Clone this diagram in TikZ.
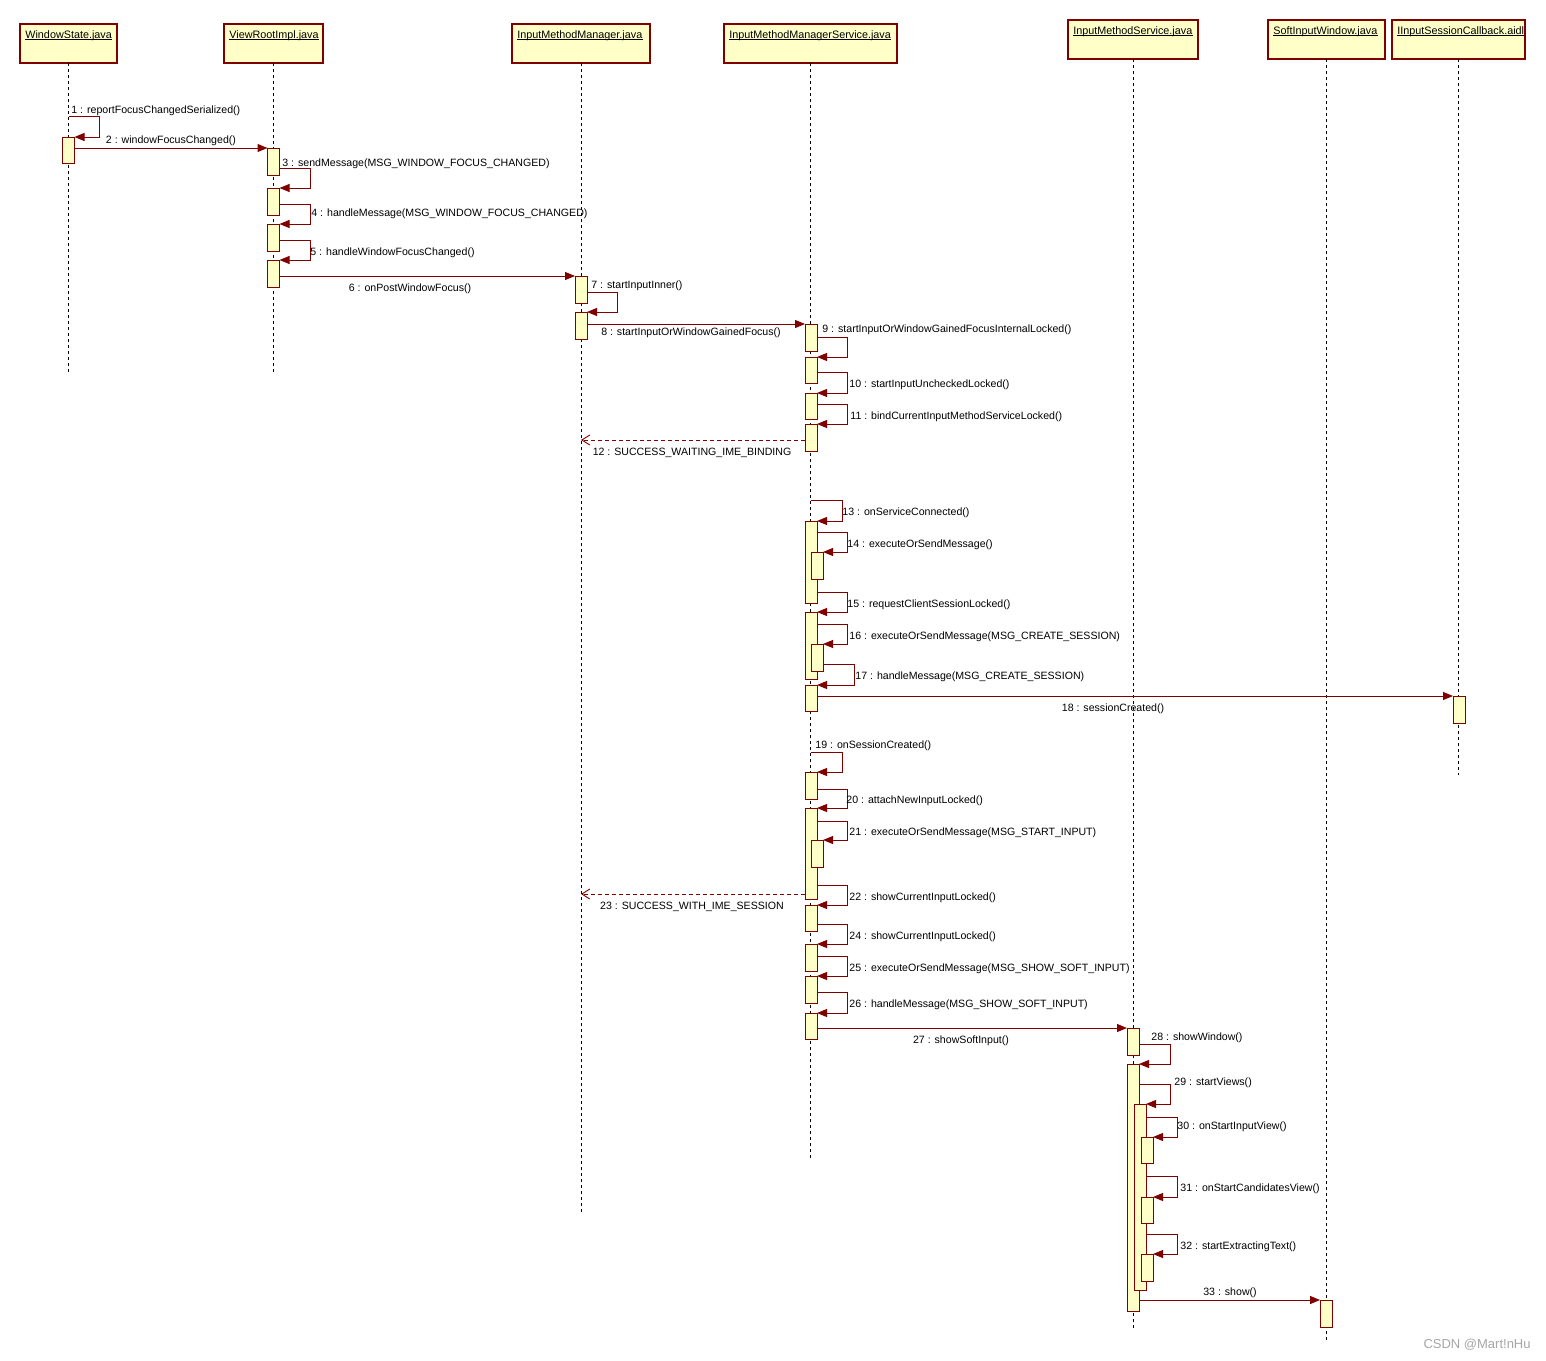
\documentclass[tikz,border=0pt]{standalone}
\usepackage{fontspec}
\setmainfont{Liberation Sans}
\usetikzlibrary{arrows.meta,calc}
\definecolor{dred}{HTML}{800000}
\definecolor{lyel}{HTML}{FFFFC8}
\newcommand\actbar[4]{\pgfmathsetmacro\barh{(#4-#3)*0.5}\node[act, anchor=north, minimum height=\barh pt] (#1) at (#2,#3) {};}
\newcommand\headbox[6]{\pgfmathsetmacro\hw{(#4-#2)*0.5}\pgfmathsetmacro\hh{(#5-#3)*0.5}\node[head, anchor=north west, minimum width=\hw pt, minimum height=\hh pt] (#1) at (#2,#3) {};\node[headtext] (#1t) at ($(#1.north west)+(5,6)$) {#6};\draw[line width=0.4pt] ([yshift=-0.8pt]#1t.base west) -- ([yshift=-0.8pt]#1t.base east);}
\newcommand\selfcall[3]{\draw[msg] (#1) -| (#3.north east -| #2,0) -- (#3.north east);}
\begin{document}
\begin{tikzpicture}[x=0.5pt,y=-0.5pt,
  head/.style={draw=dred, fill=lyel, line width=0.55pt, inner sep=0, outer sep=0},
  headtext/.style={font=\fontsize{5.4pt}{6pt}\selectfont, inner sep=0, anchor=north west},
  act/.style={draw=dred, fill=lyel, line width=0.5pt, inner sep=0, outer sep=0, minimum width=6pt},
  life/.style={black, line width=0.5pt, dash pattern=on 1.5pt off 1.5pt},
  msg/.style={dred, line width=0.5pt, -{Triangle[length=5pt,width=4pt]}},
  ret/.style={dred, line width=0.45pt, dash pattern=on 2pt off 1.5pt, -{Straight Barb[length=4pt,width=5pt]}},
  lbl/.style={font=\fontsize{5.3pt}{6pt}\selectfont, inner sep=0, yshift=-0.8pt},
  lblw/.style={lbl, anchor=west},
]
\fill[white] (0,0) rectangle (1546,1360);
\useasboundingbox (0,0) rectangle (1546,1360);

% heads
\headbox{ws}{20}{24}{117}{63}{WindowState.java}
\headbox{vr}{224}{24}{323}{63}{ViewRootImpl.java}
\headbox{imm}{512}{24}{650}{63}{InputMethodManager.java}
\headbox{imms}{724}{24}{897}{63}{InputMethodManagerService.java}
\headbox{ims}{1068}{20}{1198}{59}{InputMethodService.java}
\headbox{siw}{1268}{20}{1385}{59}{SoftInputWindow.java}
\headbox{iisc}{1392}{20}{1525}{59}{IInputSessionCallback.aidl}

% lifelines
\draw[life] (ws.south) -- (ws.south |- 0,372);
\draw[life] (vr.south) -- (vr.south |- 0,372);
\draw[life] (imm.south) -- (imm.south |- 0,1213);
\draw[life] (imms.south) -- (imms.south |- 0,1158);
\draw[life] (ims.south) -- (ims.south |- 0,1328);
\draw[life] (siw.south) -- (siw.south |- 0,1340);
\draw[life] (iisc.south) -- (iisc.south |- 0,775);

% activation bars
\actbar{wsA}{68.5}{137}{163}
\actbar{vrA}{273.5}{148}{175}
\actbar{vrB}{273.5}{188}{215}
\actbar{vrC}{273.5}{224}{251}
\actbar{vrD}{273.5}{260}{287}
\actbar{immA}{581}{276}{303}
\actbar{immB}{581}{312}{339}
\actbar{immsA}{811}{324}{351}
\actbar{immsB}{811}{357}{383}
\actbar{immsC}{811}{393}{419}
\actbar{immsD}{811}{424}{451}
\actbar{immsE}{811}{521}{603}
\actbar{immsEN}{817}{552}{579}
\actbar{immsF}{811}{612}{679}
\actbar{immsFN}{817}{644}{671}
\actbar{immsG}{811}{685}{711}
\actbar{iiscA}{1459}{696}{723}
\actbar{immsH}{811}{772}{799}
\actbar{immsI}{811}{808}{899}
\actbar{immsIN}{817}{840}{867}
\actbar{immsJ}{811}{905}{931}
\actbar{immsK}{811}{944}{971}
\actbar{immsL}{811}{976}{1003}
\actbar{immsM}{811}{1013}{1039}
\actbar{imsA}{1133}{1028}{1055}
\actbar{imsB}{1133}{1064}{1311}
\actbar{imsBN}{1140}{1104}{1290}
\actbar{imsC1}{1147}{1137}{1163}
\actbar{imsC2}{1147}{1197}{1223}
\actbar{imsC3}{1147}{1254}{1281}
\actbar{siwA}{1326}{1300}{1327}

% messages
\selfcall{ws.south |- 0,116}{99}{wsA}
\draw[msg] (wsA.east |- vrA.north west) -- (vrA.north west);
\selfcall{vrA.east |- 0,168}{310}{vrB}
\selfcall{vrB.east |- 0,204}{310}{vrC}
\selfcall{vrC.east |- 0,240}{310}{vrD}
\draw[msg] (vrD.east |- immA.north west) -- (immA.north west);
\selfcall{immA.east |- 0,292}{617}{immB}
\draw[msg] (immB.east |- immsA.north west) -- (immsA.north west);
\selfcall{immsA.east |- 0,337}{847}{immsB}
\selfcall{immsB.east |- 0,372}{847}{immsC}
\selfcall{immsC.east |- 0,404}{847}{immsD}
\draw[ret] (immsD.west |- 0,440) -- (imm.south |- 0,440);
\selfcall{imms.south |- 0,500}{842}{immsE}
\selfcall{immsE.east |- 0,532}{847}{immsEN}
\selfcall{immsE.east |- 0,592}{847}{immsF}
\selfcall{immsF.east |- 0,624}{847}{immsFN}
\selfcall{immsFN.east |- 0,664}{854}{immsG}
\draw[msg] (immsG.east |- iiscA.north west) -- (iiscA.north west);
\selfcall{imms.south |- 0,752}{842}{immsH}
\selfcall{immsH.east |- 0,789}{847}{immsI}
\selfcall{immsI.east |- 0,821}{847}{immsIN}
\selfcall{immsI.east |- 0,885}{847}{immsJ}
\draw[ret] (immsI.west |- 0,894) -- (imm.south |- 0,894);
\selfcall{immsJ.east |- 0,924}{847}{immsK}
\selfcall{immsK.east |- 0,956}{847}{immsL}
\selfcall{immsL.east |- 0,992}{847}{immsM}
\draw[msg] (immsM.east |- imsA.north west) -- (imsA.north west);
\selfcall{imsA.east |- 0,1044}{1170}{imsB}
\selfcall{imsB.east |- 0,1084}{1170}{imsBN}
\selfcall{imsBN.east |- 0,1117}{1177}{imsC1}
\selfcall{imsBN.east |- 0,1176}{1177}{imsC2}
\selfcall{imsBN.east |- 0,1234}{1177}{imsC3}
\draw[msg] (imsB.east |- siwA.north west) -- (siwA.north west);

% labels
\node[lblw] (l1) at (71,109) {1 : reportFocusChangedSerialized()};
\node[lbl] (l2) at (171,139) {2 : windowFocusChanged()};
\node[lblw] (l3) at (282,162) {3 : sendMessage(MSG\_WINDOW\_FOCUS\_CHANGED)};
\node[lblw] (l4) at (311,212) {4 : handleMessage(MSG\_WINDOW\_FOCUS\_CHANGED)};
\node[lblw] (l5) at (310,251) {5 : handleWindowFocusChanged()};
\node[lbl] (l6) at (410,287) {6 : onPostWindowFocus()};
\node[lblw] (l7) at (591,284) {7 : startInputInner()};
\node[lbl] (l8) at (691,331) {8 : startInputOrWindowGainedFocus()};
\node[lblw] (l9) at (822,328) {9 : startInputOrWindowGainedFocusInternalLocked()};
\node[lblw] (l10) at (849,383) {10 : startInputUncheckedLocked()};
\node[lblw] (l11) at (850,415) {11 : bindCurrentInputMethodServiceLocked()};
\node[lbl] (l12) at (692,451) {12 : SUCCESS\_WAITING\_IME\_BINDING};
\node[lblw] (l13) at (842,511) {13 : onServiceConnected()};
\node[lblw] (l14) at (847,543) {14 : executeOrSendMessage()};
\node[lblw] (l15) at (847,603) {15 : requestClientSessionLocked()};
\node[lblw] (l16) at (849,635) {16 : executeOrSendMessage(MSG\_CREATE\_SESSION)};
\node[lblw] (l17) at (855,675) {17 : handleMessage(MSG\_CREATE\_SESSION)};
\node[lbl] (l18) at (1113,707) {18 : sessionCreated()};
\node[lblw] (l19) at (815,744) {19 : onSessionCreated()};
\node[lblw] (l20) at (846,799) {20 : attachNewInputLocked()};
\node[lblw] (l21) at (849,831) {21 : executeOrSendMessage(MSG\_START\_INPUT)};
\node[lblw] (l22) at (849,896) {22 : showCurrentInputLocked()};
\node[lbl] (l23) at (692,905) {23 : SUCCESS\_WITH\_IME\_SESSION};
\node[lblw] (l24) at (849,935) {24 : showCurrentInputLocked()};
\node[lblw] (l25) at (849,967) {25 : executeOrSendMessage(MSG\_SHOW\_SOFT\_INPUT)};
\node[lblw] (l26) at (849,1003) {26 : handleMessage(MSG\_SHOW\_SOFT\_INPUT)};
\node[lbl] (l27) at (961,1039) {27 : showSoftInput()};
\node[lblw] (l28) at (1151,1036) {28 : showWindow()};
\node[lblw] (l29) at (1174,1081) {29 : startViews()};
\node[lblw] (l30) at (1177,1125) {30 : onStartInputView()};
\node[lblw] (l31) at (1180,1187) {31 : onStartCandidatesView()};
\node[lblw] (l32) at (1180,1245) {32 : startExtractingText()};
\node[lbl] (l33) at (1230,1291) {33 : show()};

\node[font=\fontsize{6.5pt}{7pt}\selectfont, text=gray!70, anchor=east, inner sep=0] (wm) at (1531,1345) {CSDN @Mart!nHu};
\end{tikzpicture}
\end{document}
